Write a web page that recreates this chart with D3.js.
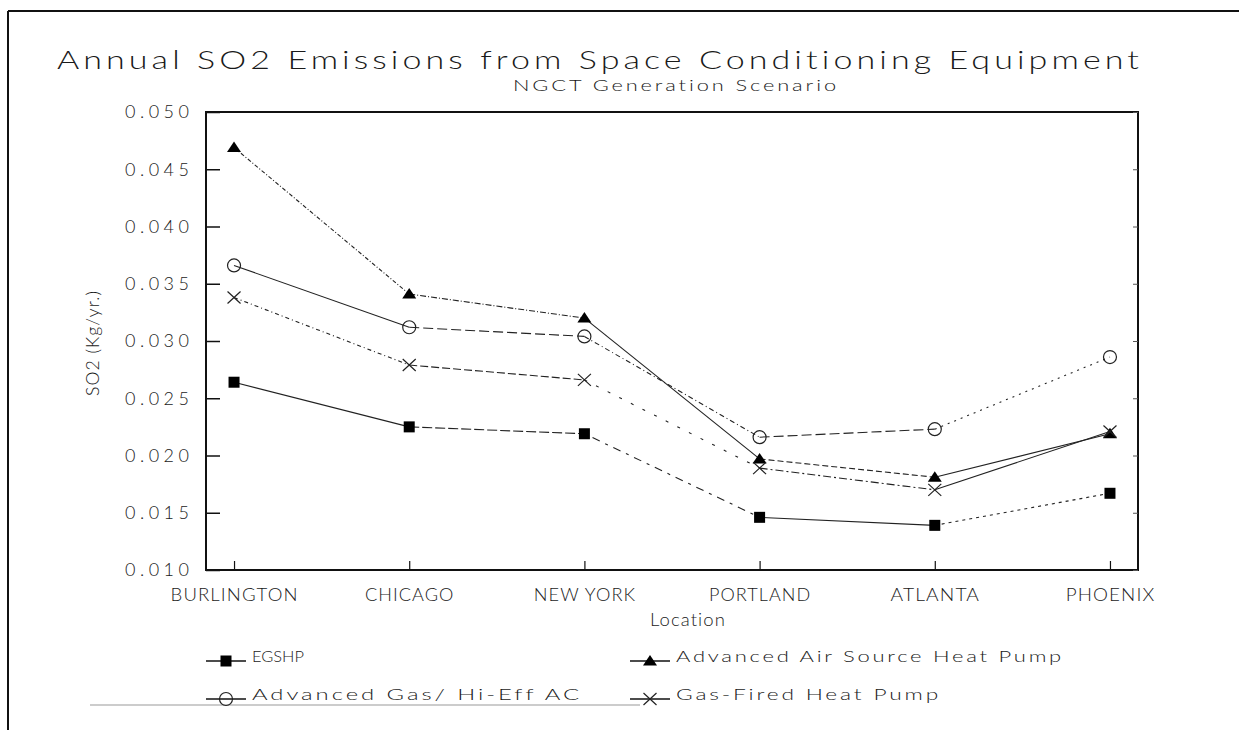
<!DOCTYPE html>
<html>
<head>
<meta charset="utf-8">
<script src="https://cdn.jsdelivr.net/npm/d3@7"></script>
<style>
  html, body { margin: 0; padding: 0; background: #fff; }
  svg { display: block; }
  text { font-family: "Lato", "Liberation Sans", sans-serif; font-weight: 300; fill: #1a1a1a; }
</style>
</head>
<body>
<svg id="chart" width="1239" height="730"></svg>
<script>
// ---- Data ----
const locations = ["BURLINGTON", "CHICAGO", "NEW YORK", "PORTLAND", "ATLANTA", "PHOENIX"];
const egshp      = [0.0264, 0.0225, 0.0219, 0.0146, 0.0139, 0.0167];
const advAirHP   = [0.0469, 0.0341, 0.0320, 0.0197, 0.0181, 0.0219];
const advGasAC   = [0.0366, 0.0312, 0.0304, 0.0216, 0.0223, 0.0286];
const gasFiredHP = [0.0338, 0.0279, 0.0266, 0.0189, 0.0170, 0.0221];
const yTicks = [0.010, 0.015, 0.020, 0.025, 0.030, 0.035, 0.040, 0.045, 0.050];
const seriesNames = ["EGSHP", "Advanced Air Source Heat Pump", "Advanced Gas/ Hi-Eff  AC", "Gas-Fired Heat Pump"];
const titleText = "Annual SO2 Emissions from Space Conditioning Equipment";
const subtitleText = "NGCT Generation Scenario";
const xTitle = "Location";
const yTitle = "SO2 (Kg/yr.)";

// ---- Styles (per series) ----
const markerKinds = ["square", "triangle", "circle", "cross"];
const segDash = [
  ["none", "10,3", "3,6,8,6", "none", "3,4"],
  ["4,2,1,2", "6,2,1,2", "none", "6,3", "none"],
  ["none", "10,4", "5,3,1,3", "10,4", "2,5"],
  ["4,3,1,3", "8,3", "3,10", "8,3,2,3", "none"]
];

const svg = d3.select("#chart");
const W = 1239, H = 730;
const plot = { left: 206, right: 1138, top: 112, bottom: 570 };
const FONT = "Lato, 'Liberation Sans', sans-serif";

// outer frame (scanned page border)
svg.append("line").attr("x1", 8).attr("y1", 11).attr("x2", W).attr("y2", 11).attr("stroke", "#111").attr("stroke-width", 2);
svg.append("line").attr("x1", 8).attr("y1", 11).attr("x2", 8).attr("y2", H).attr("stroke", "#111").attr("stroke-width", 2);
svg.append("line").attr("x1", 90).attr("y1", 705).attr("x2", 640).attr("y2", 705).attr("stroke", "#bbb").attr("stroke-width", 1.5);

// scales
const x = d3.scalePoint().domain(locations).range([plot.left, plot.right]).padding(0.16);
const y = d3.scaleLinear().domain([0.010, 0.050]).range([plot.bottom, plot.top]);

// titles
svg.append("text").attr("x", 600).attr("y", 69).attr("text-anchor", "middle")
  .attr("font-size", 25).style("letter-spacing", "3px")
  .attr("textLength", 1086).attr("lengthAdjust", "spacingAndGlyphs")
  .text(titleText);
svg.append("text").attr("x", 676).attr("y", 91).attr("text-anchor", "middle")
  .attr("font-size", 15).style("letter-spacing", "2px")
  .attr("textLength", 326).attr("lengthAdjust", "spacingAndGlyphs").text(subtitleText);

// plot frame
svg.append("rect").attr("x", plot.left).attr("y", plot.top)
  .attr("width", plot.right - plot.left).attr("height", plot.bottom - plot.top)
  .attr("fill", "none").attr("stroke", "#111").attr("stroke-width", 2);

// y axis
const yAxis = d3.axisLeft(y).tickValues(yTicks).tickFormat(d3.format(".3f"))
  .tickSizeInner(-14).tickSizeOuter(0).tickPadding(17);
const gy = svg.append("g").attr("transform", `translate(${plot.left},0)`).call(yAxis);
gy.select(".domain").remove();
gy.selectAll(".tick line").attr("stroke", "#111").attr("stroke-width", 1.5);
gy.selectAll(".tick text").attr("font-size", 18).attr("textLength", 64)
  .attr("lengthAdjust", "spacing")
  .style("font-family", FONT).style("font-weight", 300).style("fill", "#1a1a1a");

// right side small inner ticks
const yAxisR = d3.axisRight(y).tickValues(yTicks).tickFormat("").tickSizeInner(-5).tickSizeOuter(0);
const gyr = svg.append("g").attr("transform", `translate(${plot.right},0)`).call(yAxisR);
gyr.select(".domain").remove();
gyr.selectAll(".tick line").attr("stroke", "#555").attr("stroke-width", 1);

// x axis
const xAxis = d3.axisBottom(x).tickSizeInner(-9).tickSizeOuter(0).tickPadding(19);
const gx = svg.append("g").attr("transform", `translate(0,${plot.bottom})`).call(xAxis);
gx.select(".domain").remove();
gx.selectAll(".tick line").attr("stroke", "#111").attr("stroke-width", 1.2);
gx.selectAll(".tick text").attr("font-size", 17).style("letter-spacing", "1px")
  .each(function(d) { d3.select(this).attr("textLength", d.length * 12.8).attr("lengthAdjust", "spacingAndGlyphs"); })
  .style("font-family", FONT).style("font-weight", 300).style("fill", "#1a1a1a");

// axis titles
svg.append("text").attr("x", x("NEW YORK") + (x("PORTLAND") - x("NEW YORK")) / 2 + 16).attr("y", 626)
  .attr("text-anchor", "middle").attr("font-size", 17).style("letter-spacing", "1px")
  .attr("textLength", 76).attr("lengthAdjust", "spacingAndGlyphs").text(xTitle);
svg.append("text").attr("transform", `translate(99,${(plot.top + plot.bottom) / 2 + 2}) rotate(-90)`)
  .attr("text-anchor", "middle").attr("font-size", 17).style("letter-spacing", "1px")
  .attr("textLength", 106).attr("lengthAdjust", "spacingAndGlyphs").text(yTitle);

// markers
function drawMarker(g, kind, cx, cy) {
  if (kind === "square") {
    g.append("rect").attr("x", cx - 5.5).attr("y", cy - 5.5).attr("width", 11).attr("height", 11).attr("fill", "#000");
  } else if (kind === "triangle") {
    g.append("path").attr("d", `M${cx},${cy - 6} L${cx + 7},${cy + 4.5} L${cx - 7},${cy + 4.5} Z`).attr("fill", "#000");
  } else if (kind === "circle") {
    g.append("circle").attr("cx", cx).attr("cy", cy).attr("r", 6.5).attr("fill", "none").attr("stroke", "#222").attr("stroke-width", 1.2);
  } else {
    g.append("path").attr("d", `M${cx - 6.5},${cy - 6} L${cx + 6.5},${cy + 6} M${cx - 6.5},${cy + 6} L${cx + 6.5},${cy - 6}`)
      .attr("stroke", "#222").attr("stroke-width", 1.2).attr("fill", "none");
  }
}

// series
const allSeries = [egshp, advAirHP, advGasAC, gasFiredHP];
allSeries.forEach((vals, si) => {
  const g = svg.append("g");
  for (let i = 0; i < vals.length - 1; i++) {
    g.append("line")
      .attr("x1", x(locations[i])).attr("y1", y(vals[i]))
      .attr("x2", x(locations[i + 1])).attr("y2", y(vals[i + 1]))
      .attr("stroke", "#222").attr("stroke-width", 1.1)
      .attr("stroke-dasharray", segDash[si][i]);
  }
  vals.forEach((v, i) => drawMarker(g, markerKinds[si], x(locations[i]), y(v)));
});

// legend
const legendPos = [[206, 661], [630, 661], [206, 699], [630, 699]];
const legendLens = [52, 388, 330, 265];
seriesNames.forEach((name, si) => {
  const [lx, ly] = legendPos[si];
  const g = svg.append("g");
  g.append("line").attr("x1", lx).attr("y1", ly).attr("x2", lx + 40).attr("y2", ly).attr("stroke", "#111").attr("stroke-width", 1.3);
  drawMarker(g, markerKinds[si], lx + 20, ly);
  g.append("text").attr("x", lx + 46).attr("y", ly + 1).attr("font-size", si === 0 ? 15 : 16)
    .style("letter-spacing", si === 0 ? "0px" : "2px")
    .attr("textLength", legendLens[si]).attr("lengthAdjust", "spacingAndGlyphs").text(name);
});
</script>
</body>
</html>
